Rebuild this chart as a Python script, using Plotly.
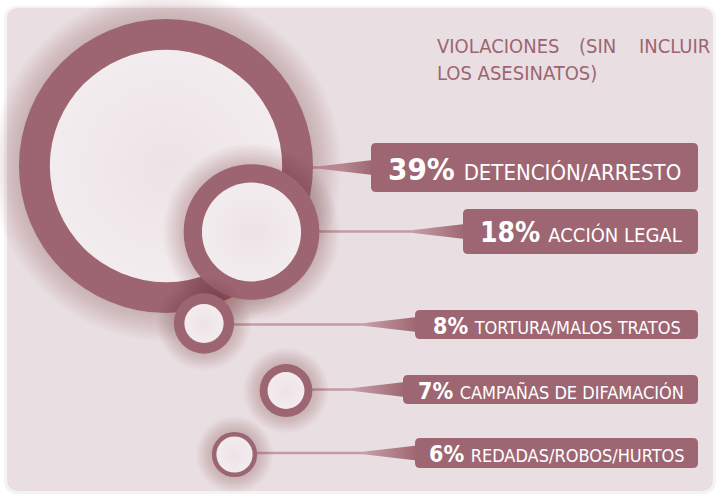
import plotly.graph_objects as go

# ---- Data ----
CATEGORIES = [
    "DETENCIÓN/ARRESTO",
    "ACCIÓN LEGAL",
    "TORTURA/MALOS TRATOS",
    "CAMPAÑAS DE DIFAMACIÓN",
    "REDADAS/ROBOS/HURTOS",
]
PERCENTS = [39, 18, 8, 7, 6]
TITLE_LINE1 = ["VIOLACIONES", "(SIN", "INCLUIR"]
TITLE_LINE2 = "LOS ASESINATOS)"

# ---- Colors / fonts ----
RING = "#9d6571"
BOX = "#9e6672"
PANEL = "#e9dfe2"
INNER = "#f3ecee"
INNER_EDGE = "#ece3e6"
LINE = "#c39ba4"
FONT = "DejaVu Sans"

W, H = 719, 494
PX_PER_PCT = 3.77  # circle radius (px) per percentage point

# ---- Layout (pixel space) ----
CIRCLE_X = [166, 251.5, 204, 286, 234.5]
CIRCLE_Y = [166, 232, 323.5, 390.5, 454.5]
INNER_RATIO = [0.79, 0.73, 0.65, 0.70, 0.80]
BOX_LEFT = [371, 463, 415, 403, 415]
BOX_RIGHT = 698
BOX_TOP = [143, 209, 310, 375, 438]
BOX_BOTTOM = [192, 254, 339, 404, 468]
PCT_SIZE = [31, 28, 23, 23, 23]
LABEL_SIZE = [22, 20, 18, 18, 18]
WEDGE_LEN = 52


def rounded_rect(x0, y0, x1, y1, r):
    return (
        f"M{x0 + r},{y0} L{x1 - r},{y0} Q{x1},{y0} {x1},{y0 + r} "
        f"L{x1},{y1 - r} Q{x1},{y1} {x1 - r},{y1} "
        f"L{x0 + r},{y1} Q{x0},{y1} {x0},{y1 - r} "
        f"L{x0},{y0 + r} Q{x0},{y0} {x0 + r},{y0} Z"
    )


def narrow(text):
    return f"<span style='font-stretch:condensed'>{text}</span>"


fig = go.Figure()

# background panel with a faint shadow
fig.add_shape(type="path", path=rounded_rect(4, 6, 716, 494, 14),
              fillcolor="rgba(90,60,70,0.06)", line_width=0, layer="below")
fig.add_shape(type="path", path=rounded_rect(7, 8, 713, 491, 12),
              fillcolor=PANEL, line_width=0, layer="below")

# connectors: thin line + tapered wedge into each label box
for i, pct in enumerate(PERCENTS):
    r = pct * PX_PER_PCT
    cy = (BOX_TOP[i] + BOX_BOTTOM[i]) / 2
    x_edge = CIRCLE_X[i] + r - 3
    ws = max(x_edge, BOX_LEFT[i] - WEDGE_LEN)
    if ws > x_edge:
        fig.add_trace(go.Scatter(
            x=[x_edge, ws], y=[cy, cy], mode="lines",
            line=dict(color=LINE, width=2.5), hoverinfo="skip", showlegend=False,
        ))
    fig.add_trace(go.Scatter(
        x=[ws, BOX_LEFT[i] + 2, BOX_LEFT[i] + 2, ws],
        y=[cy - 1.3, cy - 7.5, cy + 7.5, cy + 1.3],
        mode="none", fill="toself",
        fillgradient=dict(type="horizontal",
                          colorscale=[[0, "#c8a0a9"], [1, BOX]]),
        hoverinfo="skip", showlegend=False,
    ))

# circles: soft glow, ring, inner disc
for i, pct in enumerate(PERCENTS):
    d = 2 * pct * PX_PER_PCT
    spread = 14 + d * 0.05
    steps = 16
    glow_sizes = [d + 2 * spread * (steps - k) / steps for k in range(steps)]
    fig.add_trace(go.Scatter(
        x=[CIRCLE_X[i]] * steps, y=[CIRCLE_Y[i]] * steps, mode="markers",
        marker=dict(size=glow_sizes, color="rgba(125,60,80,0.022)", line_width=0),
        hoverinfo="skip", showlegend=False,
    ))
    fig.add_trace(go.Scatter(
        x=[CIRCLE_X[i]], y=[CIRCLE_Y[i]], mode="markers",
        marker=dict(size=d, color=RING, line_width=0),
        hoverinfo="skip", showlegend=False,
    ))
    fig.add_trace(go.Scatter(
        x=[CIRCLE_X[i]], y=[CIRCLE_Y[i]], mode="markers",
        marker=dict(size=d * INNER_RATIO[i], color=INNER, line_width=0,
                    gradient=dict(type="radial", color=INNER_EDGE)),
        hoverinfo="skip", showlegend=False,
    ))

# label boxes and text
for i, pct in enumerate(PERCENTS):
    fig.add_shape(type="path",
                  path=rounded_rect(BOX_LEFT[i], BOX_TOP[i], BOX_RIGHT, BOX_BOTTOM[i], 5),
                  fillcolor=BOX, line_width=0, layer="above")
    fig.add_annotation(
        x=(BOX_LEFT[i] + BOX_RIGHT) / 2, y=(BOX_TOP[i] + BOX_BOTTOM[i]) / 2 + 1,
        text=narrow(f"<b>{pct}%</b> <span style='font-size:{LABEL_SIZE[i]}px'>"
                    f"{CATEGORIES[i]}</span>"),
        showarrow=False, xanchor="center", yanchor="middle",
        font=dict(family=FONT, size=PCT_SIZE[i], color="white"),
    )

# title (justified first line)
title_font = dict(family=FONT, size=20, color=RING)
for word, x, anchor in zip(TITLE_LINE1, [435, 597, 712], ["left", "center", "right"]):
    fig.add_annotation(x=x, y=46, text=narrow(word), showarrow=False,
                       xanchor=anchor, yanchor="middle", font=title_font)
fig.add_annotation(x=435, y=73, text=narrow(TITLE_LINE2), showarrow=False,
                   xanchor="left", yanchor="middle", font=title_font)

fig.update_layout(
    width=W, height=H,
    margin=dict(l=0, r=0, t=0, b=0),
    paper_bgcolor="white",
    plot_bgcolor="rgba(0,0,0,0)",
    xaxis=dict(range=[0, W], visible=False, fixedrange=True),
    yaxis=dict(range=[H, 0], visible=False, fixedrange=True),
    showlegend=False,
)

fig.write_html("out.html", config={"displayModeBar": False},
               post_script="document.body.style.margin='0';")
